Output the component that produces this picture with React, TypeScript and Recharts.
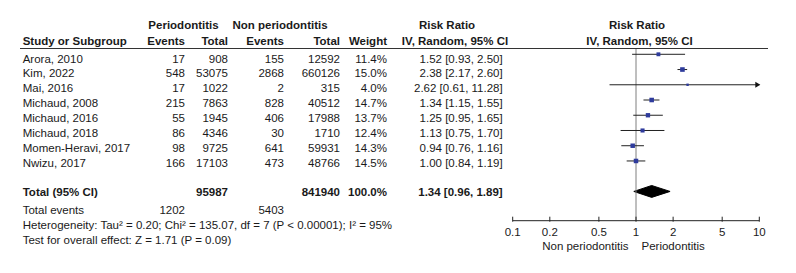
import {
  ComposedChart,
  XAxis,
  YAxis,
  Scatter,
  Area,
  ReferenceLine,
  ReferenceDot,
} from "recharts";

const studies = [
  "Arora, 2010",
  "Kim, 2022",
  "Mai, 2016",
  "Michaud, 2008",
  "Michaud, 2016",
  "Michaud, 2018",
  "Momen-Heravi, 2017",
  "Nwizu, 2017",
];
const perioEvents = [17, 548, 17, 215, 55, 86, 98, 166];
const perioTotal = [908, 53075, 1022, 7863, 1945, 4346, 9725, 17103];
const nonEvents = [155, 2868, 2, 828, 406, 30, 641, 473];
const nonTotal = [12592, 660126, 315, 40512, 17988, 1710, 59931, 48766];
const weights = [11.4, 15.0, 4.0, 14.7, 13.7, 12.4, 14.3, 14.5];
const riskRatio = [1.52, 2.38, 2.62, 1.34, 1.25, 1.13, 0.94, 1.0];
const ciLower = [0.93, 2.17, 0.61, 1.15, 0.95, 0.75, 0.76, 0.84];
const ciUpper = [2.5, 2.6, 11.28, 1.55, 1.65, 1.7, 1.16, 1.19];

const pooledRR = 1.34;
const pooledLower = 0.96;
const pooledUpper = 1.89;
const pooledPerioTotal = 95987;
const pooledNonTotal = 841940;
const totalEventsPerio = 1202;
const totalEventsNon = 5403;
const heterogeneityText =
  "Heterogeneity: Tau² = 0.20; Chi² = 135.07, df = 7 (P < 0.00001); I² = 95%";
const overallEffectText = "Test for overall effect: Z = 1.71 (P = 0.09)";

const axisTicks = [0.1, 0.2, 0.5, 1, 2, 5, 10];
const favoursLeft = "Non periodontitis";
const favoursRight = "Periodontitis";

const AXIS_MIN = 0.1;
const AXIS_MAX = 10;
const TOTAL_ROW = 9;

const FONT = '"Liberation Sans", Arial, Helvetica, sans-serif';
const TEXT = "#1a1a1a";
const SQUARE = "#2e3b9c";

// table columns (right edges unless noted)
const COL = { study: 22.7, ev1: 185, tot1: 228, ev2: 284, tot2: 340, weight: 387, rr: 502.7 };
const textBaseline = (i: number) => 62.5 + 14.86 * i;

const squares = studies.map((s, i) => ({ x: riskRatio[i], y: i, w: weights[i], name: s }));
const diamond = [
  { x: pooledLower, band: [TOTAL_ROW, TOTAL_ROW] },
  { x: pooledRR, band: [TOTAL_ROW - 0.39, TOTAL_ROW + 0.39] },
  { x: pooledUpper, band: [TOTAL_ROW, TOTAL_ROW] },
];

const fmt = (v: number) => v.toFixed(2);

function WeightSquare(props: any) {
  const { cx, cy, payload } = props;
  const s = 1.6 + payload.w * 0.2;
  return <rect x={cx - s / 2} y={cy - s / 2} width={s} height={s} fill={SQUARE} />;
}

function ArrowHead(props: any) {
  const { cx, cy } = props;
  return <path d={`M${cx - 4},${cy - 3} L${cx + 1},${cy} L${cx - 4},${cy + 3} Z`} fill="#111" />;
}

function AxisTick(props: any) {
  const { x, y, payload } = props;
  return (
    <g>
      <line x1={x} x2={x} y1={y - 4} y2={y + 1} stroke="#222" />
      <text x={x} y={y + 15} textAnchor="middle" fontSize={11.5} fontFamily={FONT} fill={TEXT}>
        {payload.value}
      </text>
    </g>
  );
}

function Txt({
  x,
  y,
  anchor = "end",
  bold = false,
  children,
}: {
  x: number;
  y: number;
  anchor?: "start" | "middle" | "end";
  bold?: boolean;
  children: any;
}) {
  return (
    <text
      x={x}
      y={y}
      textAnchor={anchor}
      fontWeight={bold ? "bold" : "normal"}
      fontSize={11.5}
      fontFamily={FONT}
      fill={TEXT}
    >
      {children}
    </text>
  );
}

function ForestTable() {
  const totalY = 196;
  return (
    <svg
      width={796}
      height={273}
      style={{ position: "absolute", left: 0, top: 0, pointerEvents: "none" }}
    >
      <Txt x={183.5} y={29} anchor="middle" bold>Periodontitis</Txt>
      <Txt x={280} y={29} anchor="middle" bold>Non periodontitis</Txt>
      <Txt x={447} y={29} anchor="middle" bold>Risk Ratio</Txt>
      <Txt x={637} y={29} anchor="middle" bold>Risk Ratio</Txt>

      <Txt x={COL.study} y={45} anchor="start" bold>Study or Subgroup</Txt>
      <Txt x={COL.ev1} y={45} bold>Events</Txt>
      <Txt x={COL.tot1} y={45} bold>Total</Txt>
      <Txt x={COL.ev2} y={45} bold>Events</Txt>
      <Txt x={COL.tot2} y={45} bold>Total</Txt>
      <Txt x={COL.weight} y={45} bold>Weight</Txt>
      <Txt x={455} y={45} anchor="middle" bold>IV, Random, 95% CI</Txt>
      <Txt x={639.5} y={45} anchor="middle" bold>IV, Random, 95% CI</Txt>
      <line x1={20} x2={768} y1={48.5} y2={48.5} stroke="#333" strokeWidth={1} />

      {studies.map((s, i) => {
        const y = textBaseline(i);
        return (
          <g key={s}>
            <Txt x={COL.study} y={y} anchor="start">{s}</Txt>
            <Txt x={COL.ev1} y={y}>{perioEvents[i]}</Txt>
            <Txt x={COL.tot1} y={y}>{perioTotal[i]}</Txt>
            <Txt x={COL.ev2} y={y}>{nonEvents[i]}</Txt>
            <Txt x={COL.tot2} y={y}>{nonTotal[i]}</Txt>
            <Txt x={COL.weight} y={y}>{weights[i].toFixed(1)}%</Txt>
            <Txt x={COL.rr} y={y}>
              {`${fmt(riskRatio[i])} [${fmt(ciLower[i])}, ${fmt(ciUpper[i])}]`}
            </Txt>
          </g>
        );
      })}

      <Txt x={COL.study} y={totalY} anchor="start" bold>Total (95% CI)</Txt>
      <Txt x={COL.tot1} y={totalY} bold>{pooledPerioTotal}</Txt>
      <Txt x={COL.tot2} y={totalY} bold>{pooledNonTotal}</Txt>
      <Txt x={COL.weight} y={totalY} bold>100.0%</Txt>
      <Txt x={COL.rr} y={totalY} bold>
        {`${fmt(pooledRR)} [${fmt(pooledLower)}, ${fmt(pooledUpper)}]`}
      </Txt>

      <Txt x={COL.study} y={214} anchor="start">Total events</Txt>
      <Txt x={COL.ev1} y={214}>{totalEventsPerio}</Txt>
      <Txt x={COL.ev2} y={214}>{totalEventsNon}</Txt>
      <Txt x={COL.study} y={229} anchor="start">{heterogeneityText}</Txt>
      <Txt x={COL.study} y={244} anchor="start">{overallEffectText}</Txt>

      <Txt x={628.5} y={250} anchor="end">{favoursLeft}</Txt>
      <Txt x={641.5} y={250} anchor="start">{favoursRight}</Txt>
    </svg>
  );
}

export default function App() {
  return (
    <div style={{ position: "relative", width: 796, height: 273, background: "#fff" }}>
      <style>{"body{margin:0}"}</style>
      <ComposedChart
        width={796}
        height={273}
        margin={{ top: 48, right: 36.7, bottom: 22.3, left: 512.7 }}
      >
        <XAxis
          type="number"
          dataKey="x"
          scale="log"
          domain={[AXIS_MIN, AXIS_MAX]}
          ticks={axisTicks}
          allowDataOverflow
          height={30}
          tickLine={false}
          tickSize={0}
          tickMargin={0}
          axisLine={{ stroke: "#222" }}
          tick={<AxisTick />}
          interval={0}
        />
        <YAxis
          type="number"
          dataKey="y"
          domain={[-0.413, 10.92]}
          reversed
          hide
          width={0}
          allowDataOverflow
        />
        <ReferenceLine x={1} stroke="#7f7f7f" strokeWidth={1} />
        {studies.map((s, i) => (
          <ReferenceLine
            key={s}
            segment={[
              { x: ciLower[i], y: i },
              { x: Math.min(ciUpper[i], AXIS_MAX), y: i },
            ]}
            stroke="#222"
            strokeWidth={1}
          />
        ))}
        {studies.map((s, i) =>
          ciUpper[i] > AXIS_MAX ? (
            <ReferenceDot key={s} x={AXIS_MAX} y={i} r={3} shape={<ArrowHead />} />
          ) : null
        )}
        <Area
          data={diamond}
          dataKey="band"
          type="linear"
          stroke="#000"
          fill="#000"
          fillOpacity={1}
          dot={false}
          activeDot={false}
          isAnimationActive={false}
        />
        <Scatter data={squares} shape={<WeightSquare />} isAnimationActive={false} />
      </ComposedChart>
      <ForestTable />
    </div>
  );
}
